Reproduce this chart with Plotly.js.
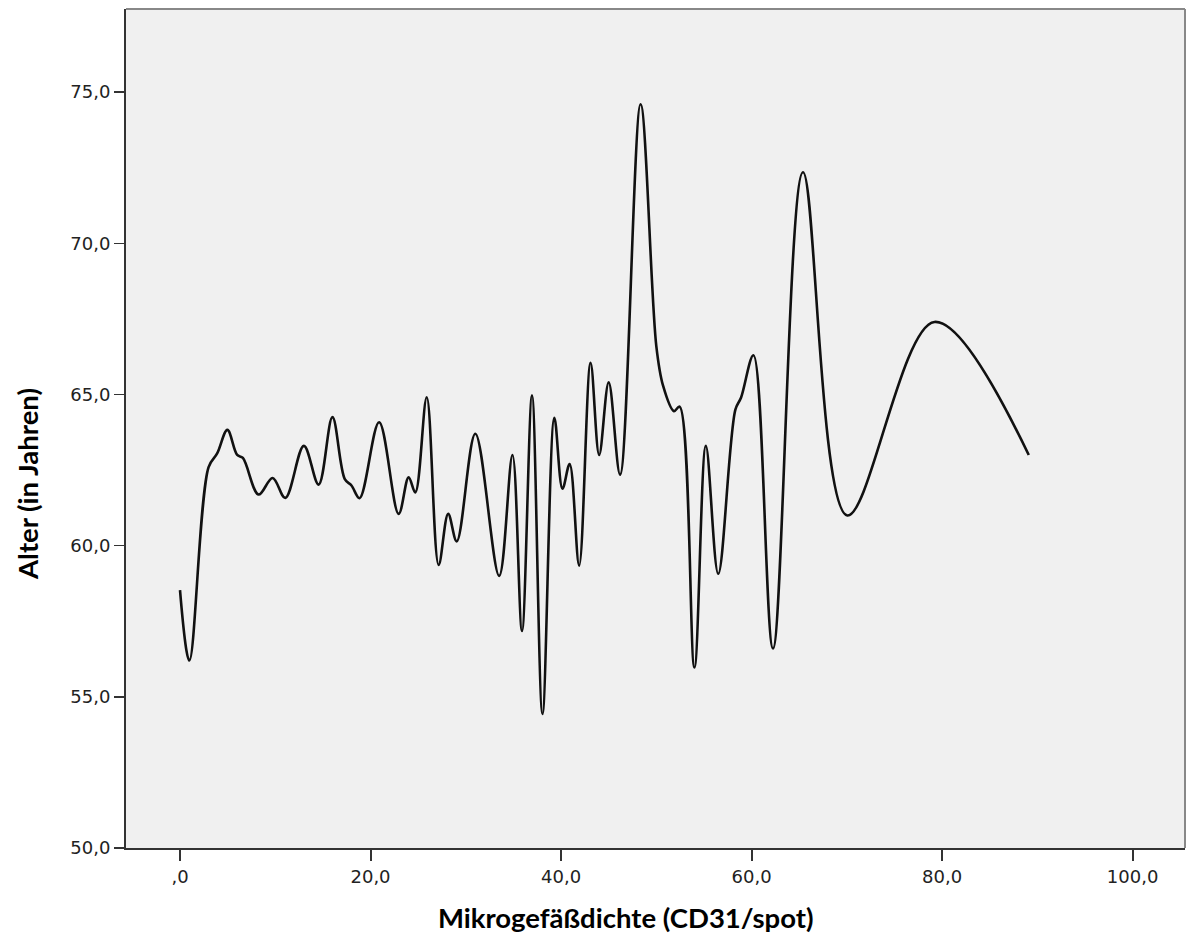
<!DOCTYPE html>
<html>
<head>
<meta charset="utf-8">
<script src="https://cdn.plot.ly/plotly-3.0.1.min.js"></script>
<style>html,body{margin:0;padding:0;background:#fff;}#chart{width:1188px;height:940px;}</style>
</head>
<body>
<div id="chart"></div>
<script>
// Mikrogefäßdichte (CD31/spot) vs. Alter (in Jahren)
const mvd = [0, 0.98, 3.0, 3.9, 4.97, 6.0, 6.6, 8.25, 9.72, 11.05, 13.0, 14.55, 16.0, 17.3, 18.0, 18.85,
  20.9, 22.95, 24.0, 24.7, 25.9, 27.15, 28.15, 29.05, 31.0, 33.5, 34.9, 35.9, 36.95, 38.05,
  39.3, 40.15, 40.9, 41.9, 43.1, 44.0, 45.0, 46.2, 48.35, 50.0, 50.7, 51.85, 52.45, 54.0,
  55.2, 56.5, 58.3, 58.9, 60.2, 62.25, 65.4, 70.05, 79.2, 89.1];
const alter = [58.53, 56.2, 62.6, 63.05, 63.83, 63.0, 62.9, 61.69, 62.24, 61.58, 63.3, 62.02, 64.25, 62.2, 61.99, 61.57,
  64.08, 61.05, 62.26, 61.76, 64.91, 59.36, 61.05, 60.14, 63.7, 59.0, 63.0, 57.18, 64.97, 54.43,
  64.23, 61.88, 62.7, 59.34, 66.05, 63.0, 65.4, 62.35, 74.6, 66.6, 65.3, 64.45, 64.6, 55.97,
  63.3, 59.07, 64.5, 64.9, 66.3, 56.6, 72.35, 61.0, 67.4, 63.0];
const xTicks = [0, 20, 40, 60, 80, 100];
const xTickText = [',0', '20,0', '40,0', '60,0', '80,0', '100,0'];
const yTicks = [50, 55, 60, 65, 70, 75];
const yTickText = ['50,0', '55,0', '60,0', '65,0', '70,0', '75,0'];
const xTitle = 'Mikrogefäßdichte (CD31/spot)';
const yTitle = 'Alter (in Jahren)';

const trace = {
  x: mvd, y: alter, type: 'scatter', mode: 'lines',
  line: {color: '#111111', width: 2.6, shape: 'spline', smoothing: 1},
  hoverinfo: 'skip'
};
const tickFont = {family: 'DejaVu Sans', size: 18, color: '#222222'};
const titleFont = {family: 'Lato', size: 27.5, color: '#000000', weight: 'bold'};
const layout = {
  width: 1188, height: 940,
  margin: {l: 126, r: 3, t: 9, b: 92},
  paper_bgcolor: '#ffffff', plot_bgcolor: '#f0f0f0',
  showlegend: false,
  xaxis: {
    range: [-5.67, 105.5], tickmode: 'array', tickvals: xTicks, ticktext: xTickText,
    ticks: 'outside', ticklen: 11, tickwidth: 2, tickcolor: '#333333',
    showgrid: false, zeroline: false, showline: true, linecolor: '#333333', linewidth: 2,
    tickfont: tickFont
  },
  yaxis: {
    range: [50, 77.75], tickmode: 'array', tickvals: yTicks, ticktext: yTickText,
    ticks: 'outside', ticklen: 10, tickwidth: 1.5, tickcolor: '#333333',
    showgrid: false, zeroline: false, showline: true, linecolor: '#333333', linewidth: 2,
    tickfont: tickFont
  },
  shapes: [
    {type: 'line', xref: 'paper', yref: 'paper', x0: 0, x1: 1, y0: 1, y1: 1, line: {color: '#888888', width: 2}},
    {type: 'line', xref: 'paper', yref: 'paper', x0: 1, x1: 1, y0: 0, y1: 1, line: {color: '#888888', width: 2}}
  ],
  annotations: [
    {text: xTitle, xref: 'paper', yref: 'paper', x: 0.4717, y: -0.0834, xanchor: 'center', yanchor: 'middle',
     showarrow: false, font: titleFont},
    {text: yTitle, xref: 'paper', yref: 'paper', x: -0.0925, y: 0.4339, xanchor: 'center', yanchor: 'middle',
     textangle: -90, showarrow: false, font: titleFont}
  ]
};
Plotly.newPlot('chart', [trace], layout, {displayModeBar: false, staticPlot: true});
</script>
</body>
</html>
